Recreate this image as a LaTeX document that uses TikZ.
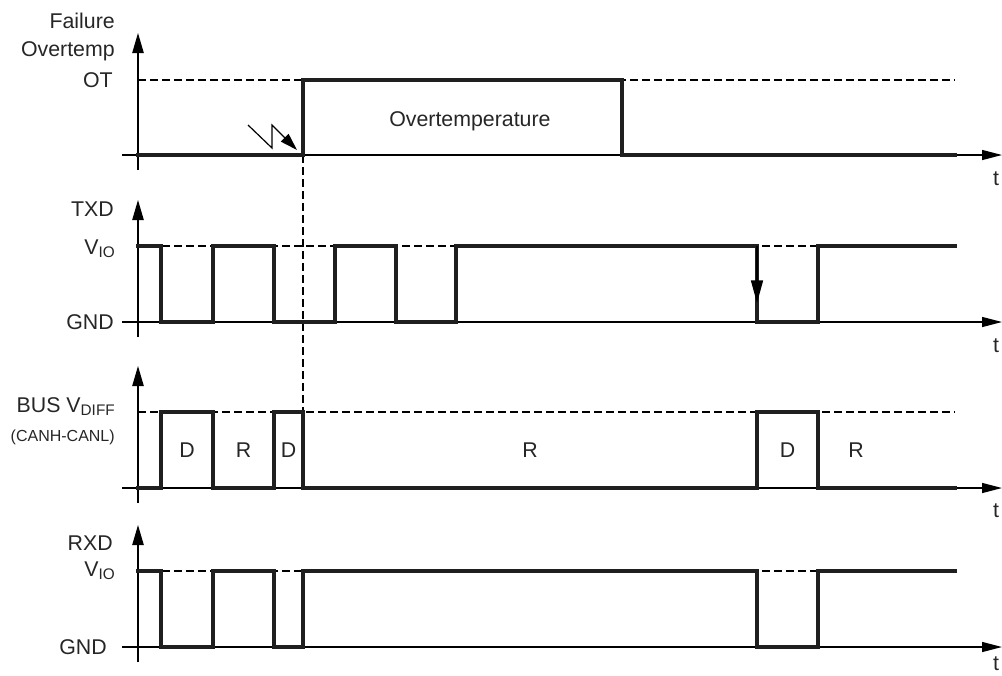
\documentclass[tikz,border=0pt]{standalone}
\usepackage{fontspec}
\setmainfont{Liberation Sans}
\usetikzlibrary{arrows.meta}
\newcommand{\sublbl}[1]{\raisebox{-0.33ex}{\fontsize{11.5}{12}\selectfont #1}}
\begin{document}
\begin{tikzpicture}[x=0.75pt,y=-0.75pt,
  sig/.style={line width=2.3pt, line join=miter, line cap=rect, color=black!88},
  yax/.style={line width=1pt, -{Triangle[length=15pt,width=8.5pt]}},
  xax/.style={line width=1pt, -{Triangle[length=15pt,width=7.5pt]}},
  lvl/.style={line width=0.9pt, dash pattern=on 6pt off 3pt},
  lbl/.style={font=\fontsize{16}{18}\selectfont, inner sep=0pt, text=black!85},
  small/.style={font=\fontsize{12}{14}\selectfont, inner sep=0pt, text=black!85}]
\useasboundingbox (0,0) rectangle (1002,675);

% ---------- axes ----------
\foreach \top/\bot/\base in {33/170/155, 200/337/322, 366/503/488, 525/662/647}{
  \draw[yax] (138,\bot) -- (138,\top);
  \draw[xax] (122,\base) -- (1002,\base);
}

% ---------- level lines ----------
\draw[lvl] (138,80) -- (955,80);
\draw[lvl] (138,246) -- (955,246);
\draw[lvl] (138,412) -- (955,412);
\draw[lvl] (138,571) -- (955,571);
\draw[lvl] (303,155) -- (303,412);

% ---------- signals ----------
\draw[sig] (138,155) -- (303,155) -- (303,80) -- (622,80) -- (622,155) -- (955,155);
\draw[sig] (138,246) -- (161,246) -- (161,322) -- (213,322) -- (213,246) -- (274,246)
  -- (274,322) -- (335,322) -- (335,246) -- (396,246) -- (396,322) -- (456,322)
  -- (456,246) -- (757,246) -- (757,322) -- (818,322) -- (818,246) -- (955,246);
\draw[sig] (138,488) -- (161,488) -- (161,412) -- (213,412) -- (213,488) -- (274,488)
  -- (274,412) -- (303,412) -- (303,488) -- (757,488) -- (757,412) -- (818,412)
  -- (818,488) -- (955,488);
\draw[sig] (138,571) -- (161,571) -- (161,647) -- (213,647) -- (213,571) -- (274,571)
  -- (274,647) -- (303,647) -- (303,571) -- (757,571) -- (757,647) -- (818,647)
  -- (818,571) -- (955,571);

% TXD falling edge marker
\coordinate (ea) at (757,246);
\coordinate (eb) at (757,303);
\draw[line width=1.2pt, -{Triangle[length=17pt,width=9pt]}] (ea) -- (eb);

% failure (lightning) marker
\coordinate (l1) at (248,125);
\coordinate (l2) at (272,148);
\coordinate (l3) at (272,125);
\coordinate (l4) at (297,150);
\draw[line width=0.9pt, line join=miter, -{Triangle[length=13pt,width=8pt]}] (l1) -- (l2) -- (l3) -- (l4);

% ---------- labels ----------
\node[lbl, anchor=base east] (failure) at (115,28.5) {Failure};
\node[lbl, anchor=base east] (overtemp) at (115,56) {Overtemp};
\node[lbl, anchor=base east] (ot) at (113,87) {OT};
\node[lbl, anchor=base west] (otext) at (389,126) {Overtemperature};

\node[lbl, anchor=base east] (txd) at (114,216) {TXD};
\node[lbl, anchor=base east] (vio1) at (115,254) {V\sublbl{IO}};
\node[lbl, anchor=base east] (gnd1) at (114,329) {GND};

\node[lbl, anchor=base east] (bus) at (115,412) {BUS V\sublbl{DIFF}};
\node[small, anchor=base east] (canh) at (115,441) {(CANH-CANL)};

\node[lbl, anchor=base east] (rxd) at (113,550) {RXD};
\node[lbl, anchor=base east] (vio2) at (115,576) {V\sublbl{IO}};
\node[lbl, anchor=base east] (gnd2) at (107,654) {GND};

\node[lbl, anchor=base] (d1) at (187,457) {D};
\node[lbl, anchor=base] (r1) at (243.5,457) {R};
\node[lbl, anchor=base] (d2) at (288.5,457) {D};
\node[lbl, anchor=base] (r2) at (530,457) {R};
\node[lbl, anchor=base] (d3) at (787.5,457) {D};
\node[lbl, anchor=base] (r3) at (856,457) {R};

\node[lbl, anchor=base] (t1) at (996,185) {t};
\node[lbl, anchor=base] (t2) at (996,352) {t};
\node[lbl, anchor=base] (t3) at (996,517) {t};
\node[lbl, anchor=base] (t4) at (996,670) {t};
\end{tikzpicture}
\end{document}
